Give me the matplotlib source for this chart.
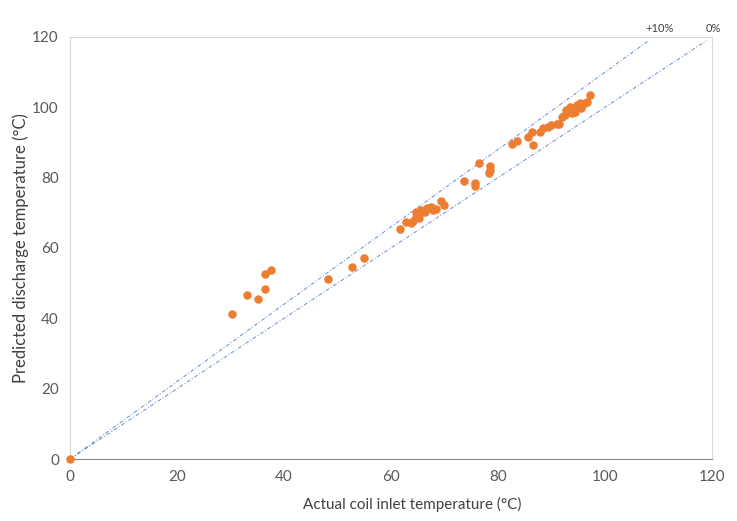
import matplotlib
matplotlib.use("Agg")
import matplotlib.pyplot as plt

plt.rcParams['font.family'] = ['Lato', 'DejaVu Sans']

actual = [0, 30.3, 33.1, 35.1, 36.4, 36.4, 37.6, 48.3, 52.7, 54.9,
          61.7, 62.9, 63.7, 64.2, 64.7, 64.7, 65.3, 65.4, 65.7, 66.4, 66.7,
          67.4, 67.9, 68.5, 69.3, 69.9, 73.6, 75.7, 75.7, 76.5, 78.4, 78.6, 78.6,
          82.7, 83.6, 85.7, 86.4, 86.6, 87.9, 88.5, 89.4, 90.0, 91.0, 91.5,
          91.9, 92.5, 92.8, 93.5, 93.5, 93.8, 94.4, 94.7, 95.3, 95.6, 96.3,
          96.6, 97.2]
predicted = [0, 41.1, 46.5, 45.6, 48.4, 52.5, 53.7, 51.1, 54.5, 57.1,
             65.3, 67.5, 67.0, 67.8, 68.9, 70.3, 68.4, 69.9, 70.8, 70.3, 71.3,
             71.7, 70.8, 71.0, 73.4, 72.2, 79.0, 78.6, 77.6, 84.2, 81.2, 83.3, 82.2,
             89.6, 90.4, 91.6, 93.1, 89.3, 93.1, 94.0, 94.5, 95.0, 95.4, 95.4,
             97.3, 97.8, 99.2, 100.2, 98.8, 98.3, 98.8, 100.7, 101.2, 99.7, 101.2,
             101.6, 103.5]

# reference lines: y = x (0%) and y = 1.1x (+10%)
line_0 = [0, 119]
line_10 = [0, 108.2]

fig = plt.figure(figsize=(7.37, 5.21), dpi=100)
ax = fig.add_axes([0.095, 0.119, 0.871, 0.81])

ax.plot(line_10, [v * 1.1 for v in line_10], color='#4472C4', lw=0.7,
        ls=(0, (4, 2, 1, 2)), alpha=0.8)
ax.plot(line_0, line_0, color='#4472C4', lw=0.7,
        ls=(0, (4, 2, 1, 2)), alpha=0.8)
ax.scatter(actual, predicted, s=26, color='#ED7D31', zorder=3, clip_on=False)

ax.text(110.3, 122.5, '+10%', fontsize=8, color='#404040', ha='center', va='center')
ax.text(120.2, 122.5, '0%', fontsize=8, color='#404040', ha='center', va='center')

ax.set_xlim(0, 120)
ax.set_ylim(0, 120)
ax.set_xticks(range(0, 121, 20))
ax.set_yticks(range(0, 121, 20))
ax.tick_params(length=0, labelsize=11, labelcolor='#595959', pad=8)
for side in ['top', 'right', 'left']:
    ax.spines[side].set_color('#D9D9D9')
ax.spines['bottom'].set_color('#868686')

ax.set_xlabel('Actual coil inlet temperature (°C)', fontsize=11, color='#404040')
ax.set_ylabel('Predicted discharge temperature (°C)', fontsize=12, color='#404040')
ax.xaxis.set_label_coords(0.533, -0.09)
ax.yaxis.set_label_coords(-0.064, 0.5)

fig.savefig('out.png', dpi=100)
